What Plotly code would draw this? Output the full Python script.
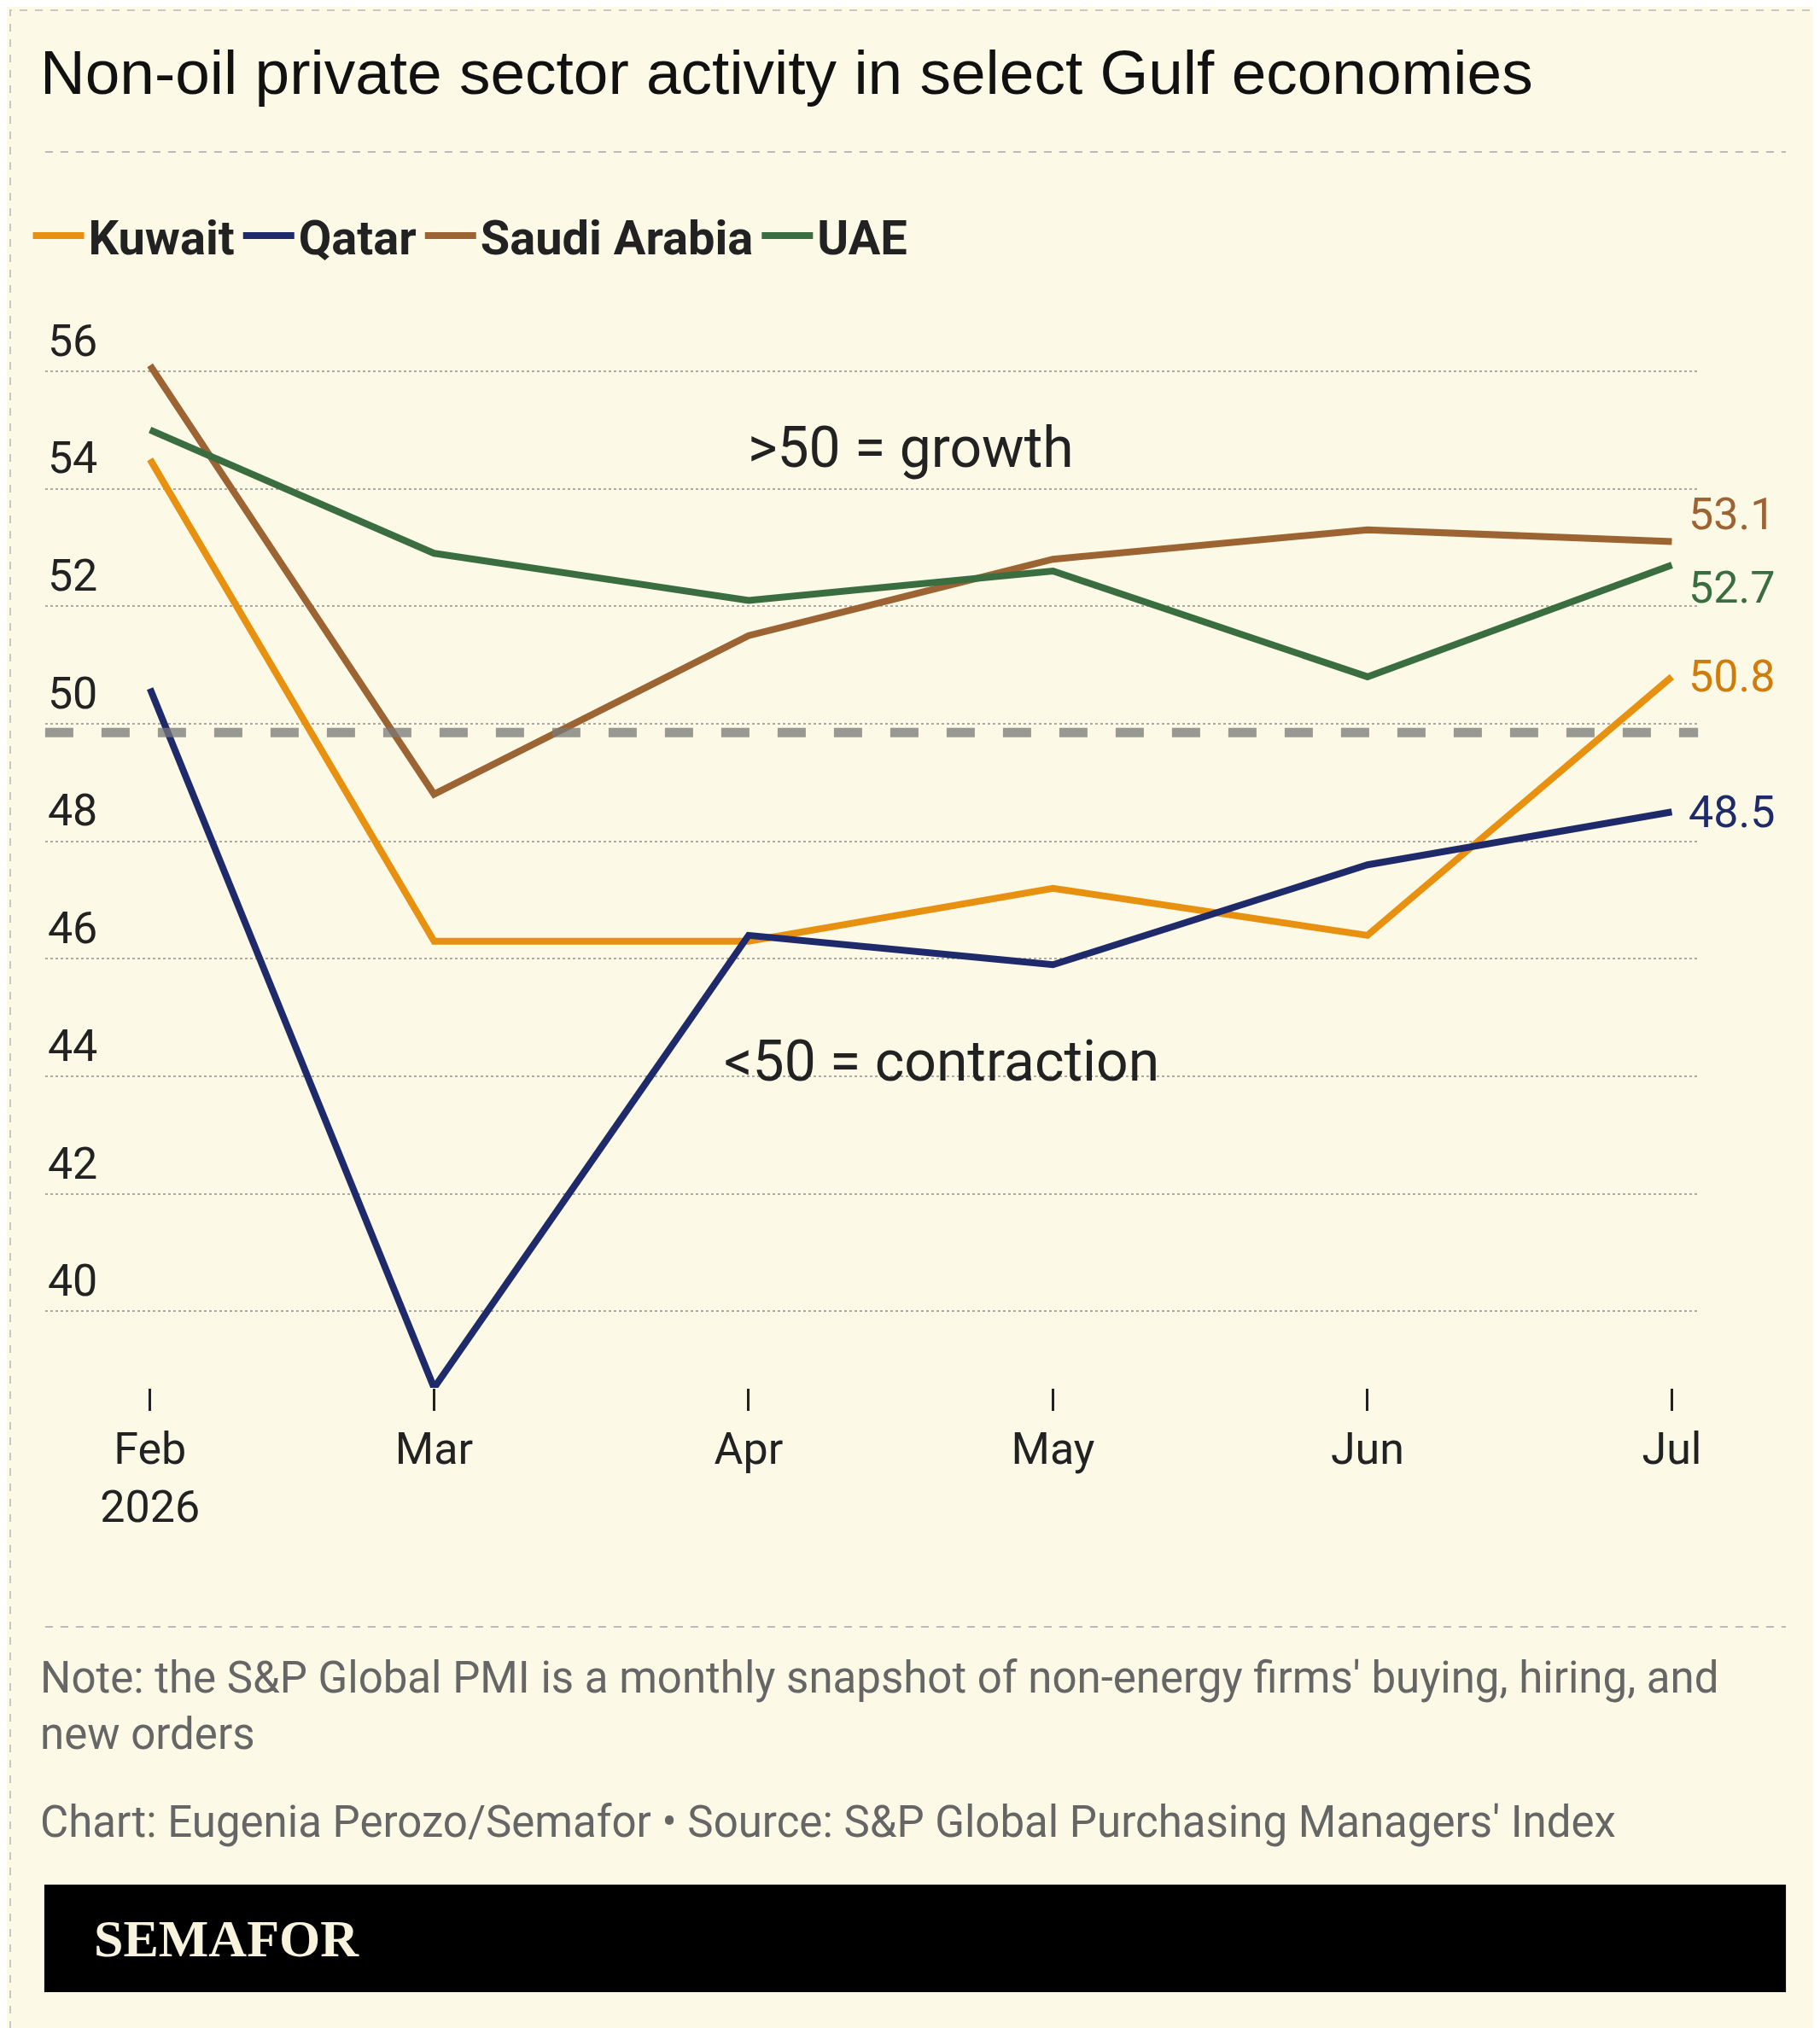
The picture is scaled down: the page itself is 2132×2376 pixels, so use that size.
import plotly.graph_objects as go

months = ["2026-02-01", "2026-03-01", "2026-04-01", "2026-05-01", "2026-06-01", "2026-07-01"]
tick_labels = ["Feb<br>2026", "Mar", "Apr", "May", "Jun", "Jul"]
kuwait = [54.5, 46.3, 46.3, 47.2, 46.4, 50.8]
qatar = [50.6, 38.7, 46.4, 45.9, 47.6, 48.5]
saudi = [56.1, 48.8, 51.5, 52.8, 53.3, 53.1]
uae = [55.0, 52.9, 52.1, 52.6, 50.8, 52.7]
series = [("Kuwait", kuwait, "#e8900f"), ("Qatar", qatar, "#1f2a6b"),
          ("Saudi Arabia", saudi, "#9c6432"), ("UAE", uae, "#3a6e40")]
end_labels = [("Saudi Arabia", saudi, "#9c6432", 32), ("UAE", uae, "#3a6e40", -26),
              ("Kuwait", kuwait, "#d07c0a", 0), ("Qatar", qatar, "#1f2a6b", 0)]

W, H = 2132, 2376
BG = "#fcf9e6"
fig = go.Figure()
for name, vals, col in series:
    fig.add_trace(go.Scatter(x=months, y=vals, name=name, mode="lines",
                             line=dict(color=col, width=8), cliponaxis=False))

ann = []
for name, vals, col, ys in end_labels:
    ann.append(dict(x=months[-1], y=vals[-1], xref="x", yref="y", text=f"{vals[-1]:.1f}",
                    showarrow=False, xanchor="left", xshift=18, yshift=ys,
                    font=dict(size=52, color=col, family="Roboto")))
ann += [
    dict(x="2026-04-17", y=54.7, xref="x", yref="y", text=">50 = growth", showarrow=False,
         font=dict(size=66, color="#222", family="Roboto")),
    dict(x="2026-04-20", y=44.25, xref="x", yref="y", text="<50 = contraction", showarrow=False,
         font=dict(size=66, color="#222", family="Roboto")),
    dict(x=45/W, y=1-76/H, xref="paper", yref="paper", text="Non-oil private sector activity in select Gulf economies",
         showarrow=False, xanchor="left", yanchor="middle", xshift=-8,
         font=dict(size=73, color="#111", family="Liberation Sans")),
    dict(x=45/W, y=1-1990/H, xref="paper", yref="paper",
         text="Note: the S&P Global PMI is a monthly snapshot of non-energy firms' buying, hiring, and<br>new orders",
         showarrow=False, xanchor="left", yanchor="middle", align="left", xshift=-8,
         font=dict(size=51, color="#666", family="Roboto")),
    dict(x=45/W, y=1-2126/H, xref="paper", yref="paper",
         text="Chart: Eugenia Perozo/Semafor • Source: S&P Global Purchasing Managers' Index",
         showarrow=False, xanchor="left", yanchor="middle", xshift=-8,
         font=dict(size=51, color="#666", family="Roboto")),
    dict(x=100/W, y=1-2263/H, xref="paper", yref="paper", text="<b>SEMAFOR</b>",
         showarrow=False, xanchor="left", yanchor="middle", font=dict(size=62, color="#f8f3dc", family="Liberation Serif")),
]

shapes = [
    dict(type="rect", xref="paper", yref="paper", x0=4/W, x1=1-4/W, y0=4/H, y1=1-4/H,
         line=dict(color="#c8c8c8", width=2, dash="dash")),
    dict(type="line", xref="paper", yref="paper", x0=45/W, x1=2088/W, y0=1-170/H, y1=1-170/H,
         line=dict(color="#bbb", width=2, dash="dash")),
    dict(type="line", xref="paper", yref="paper", x0=45/W, x1=2088/W, y0=1-1898/H, y1=1-1898/H,
         line=dict(color="#bbb", width=2, dash="dash")),
    dict(type="rect", xref="paper", yref="paper", x0=44/W, x1=2088/W, y0=1-2326/H, y1=1-2200/H,
         fillcolor="black", line=dict(width=0), layer="below"),
    dict(type="line", xref="paper", yref="y", x0=0.0211, x1=0.931, y0=49.85, y1=49.85,
         line=dict(color="rgba(120,120,120,0.75)", width=11, dash="dash")),
]

fig.update_layout(
    width=W, height=H, paper_bgcolor=BG, plot_bgcolor=BG,
    margin=dict(l=0, r=0, t=0, b=0),
    annotations=ann, shapes=shapes,
    legend=dict(orientation="h", x=0.012, y=1-268/H, yanchor="middle", xanchor="left",
                font=dict(size=56, color="#222", family="Roboto", weight="bold"),
                bgcolor="rgba(0,0,0,0)", itemwidth=60, tracegroupgap=0),
    xaxis=dict(type="date", domain=[0.0211, 0.931],
               range=["2026-01-21 16:00", "2026-07-03 14:00"],
               tickvals=months, ticktext=tick_labels, showgrid=False, zeroline=False,
               ticks="outside", ticklen=26, tickwidth=3, tickcolor="#222",
               tickfont=dict(size=52, color="#222", family="Roboto"), showline=False),
    yaxis=dict(domain=[1-1618/H, 1-358/H], range=[38.7, 57],
               tickvals=[40, 42, 44, 46, 48, 50, 52, 54, 56],
               ticklabelposition="inside top", showgrid=True, gridcolor="#aaa",
               griddash="dot", gridwidth=2, zeroline=False,
               tickfont=dict(size=52, color="#222", family="Roboto")),
)
fig.write_html("out.html")
